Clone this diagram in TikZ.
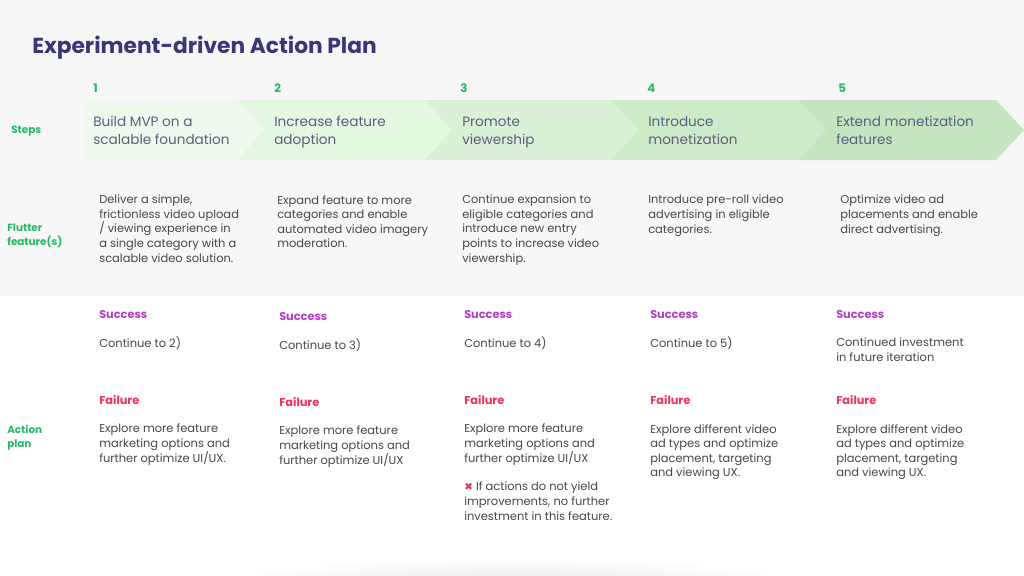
\documentclass[tikz,border=0pt]{standalone}
\usepackage{fontspec}
\setmainfont{Poppins}
\newfontfamily\symfont{DejaVu Sans}
\usepackage{xcolor}
\definecolor{pagegray}{HTML}{F7F7F7}
\definecolor{titleblue}{HTML}{3A3779}
\definecolor{stepgreen}{HTML}{26B866}
\definecolor{stepgray}{HTML}{5E5D7C}
\definecolor{bodygray}{HTML}{474747}
\definecolor{okpurple}{HTML}{B23FC6}
\definecolor{failred}{HTML}{F2305C}
\definecolor{chevA}{HTML}{F0F9EE}
\definecolor{chevB}{HTML}{E4F7E0}
\definecolor{chevC}{HTML}{D9F2D5}
\definecolor{chevD}{HTML}{CEEBC9}
\definecolor{chevE}{HTML}{C4E5BF}
\usetikzlibrary{positioning}

\begin{document}
\begin{tikzpicture}[x=0.75pt, y=-0.75pt,
	every node/.style={inner sep=0pt, anchor=base west, align=left},
	steptext/.style={text=stepgray, font=\fontsize{10.2}{12.8}\selectfont},
	bodytext/.style={text=bodygray, font=\fontsize{8.6}{10.9}\selectfont},
	rowlabel/.style={text=stepgreen, font=\fontsize{7.8}{10.5}\selectfont\bfseries},
	stepnum/.style={text=stepgreen, font=\fontsize{8.8}{10}\selectfont\bfseries},
	okhead/.style={text=okpurple, font=\fontsize{8.5}{10}\selectfont\bfseries},
	failhead/.style={text=failred, font=\fontsize{8.5}{10}\selectfont\bfseries}]
\useasboundingbox (0,0) rectangle (1024,575);

% background
\fill[pagegray] (0,0) rectangle (1024,296);
\fill[white] (0,296) rectangle (1024,575);
\shade[inner color=black!10, outer color=white] (512,590) ellipse [x radius=310, y radius=34];

% title
\node[text=titleblue, font=\fontsize{16.3}{19}\selectfont\bfseries] (title) at (32,53) {Experiment-driven Action Plan};

% chevrons
\fill[chevA] (85,100) -- (237,100) -- (265,130) -- (237,160) -- (85,160) -- cycle;
\fill[chevB] (237,100) -- (424,100) -- (452,130) -- (424,160) -- (237,160) -- (265,130) -- cycle;
\fill[chevC] (424,100) -- (611,100) -- (639,130) -- (611,160) -- (424,160) -- (452,130) -- cycle;
\fill[chevD] (611,100) -- (798,100) -- (826,130) -- (798,160) -- (611,160) -- (639,130) -- cycle;
\fill[chevE] (798,100) -- (996,100) -- (1024,130) -- (996,160) -- (798,160) -- (826,130) -- cycle;

% step numbers
\node[stepnum] (num1) at (93,92) {1};
\node[stepnum] (num2) at (274,92) {2};
\node[stepnum] (num3) at (460,92) {3};
\node[stepnum] (num4) at (647,92) {4};
\node[stepnum] (num5) at (838,92) {5};

% step titles (base = last line)
\node[steptext] (step1) at (93,144) {Build MVP on a\\scalable foundation};
\node[steptext] (step2) at (274,144) {Increase feature\\adoption};
\node[steptext] (step3) at (462,144) {Promote\\viewership};
\node[steptext] (step4) at (648,144) {Introduce\\monetization};
\node[steptext] (step5) at (836,144) {Extend monetization\\features};

% row labels
\node[rowlabel] (lblsteps) at (11,133) {Steps};
\node[rowlabel] (lblfeat) at (7,245) {Flutter\\feature(s)};
\node[rowlabel] (lblplan) at (7,447) {Action\\plan};

% features
\node[bodytext] (feat1) at (99,262) {Deliver a simple,\\frictionless video upload\\/ viewing experience in\\a single category with a\\scalable video solution.};
\node[bodytext] (feat2) at (277,247.6) {Expand feature to more\\categories and enable\\automated video imagery\\moderation.};
\node[bodytext] (feat3) at (462,262) {Continue expansion to\\eligible categories and\\introduce new entry\\points to increase video\\viewership.};
\node[bodytext] (feat4) at (648,233) {Introduce pre-roll video\\advertising in eligible\\categories.};
\node[bodytext] (feat5) at (840,233) {Optimize video ad\\placements and enable\\direct advertising.};

% success
\node[okhead] (ok1) at (99,318) {Success};
\node[okhead] (ok2) at (279,320) {Success};
\node[okhead] (ok3) at (464,318) {Success};
\node[okhead] (ok4) at (650,318) {Success};
\node[okhead] (ok5) at (836,318) {Success};
\node[bodytext] (next1) at (99,347) {Continue to 2)};
\node[bodytext] (next2) at (279,349) {Continue to 3)};
\node[bodytext] (next3) at (464,347) {Continue to 4)};
\node[bodytext] (next4) at (650,347) {Continue to 5)};
\node[bodytext] (next5) at (836,361.5) {Continued investment\\in future iteration};

% failure
\node[failhead] (fail1) at (99,404) {Failure};
\node[failhead] (fail2) at (279,406) {Failure};
\node[failhead] (fail3) at (464,404) {Failure};
\node[failhead] (fail4) at (650,404) {Failure};
\node[failhead] (fail5) at (836,404) {Failure};
\node[bodytext] (try1) at (99,462) {Explore more feature\\marketing options and\\further optimize UI/UX.};
\node[bodytext] (try2) at (279,464) {Explore more feature\\marketing options and\\further optimize UI/UX};
\node[bodytext] (try3) at (464,462) {Explore more feature\\marketing options and\\further optimize UI/UX};
\node[bodytext] (try4) at (650,476.6) {Explore different video\\ad types and optimize\\placement, targeting\\and viewing UX.};
\node[bodytext] (try5) at (836,476.6) {Explore different video\\ad types and optimize\\placement, targeting\\and viewing UX.};
\node[bodytext] (stop3) at (464,520) {{\symfont\color{failred}\fontsize{7.8}{8}\selectfont ✖}\ If actions do not yield\\improvements, no further\\investment in this feature.};
\end{tikzpicture}
\end{document}
